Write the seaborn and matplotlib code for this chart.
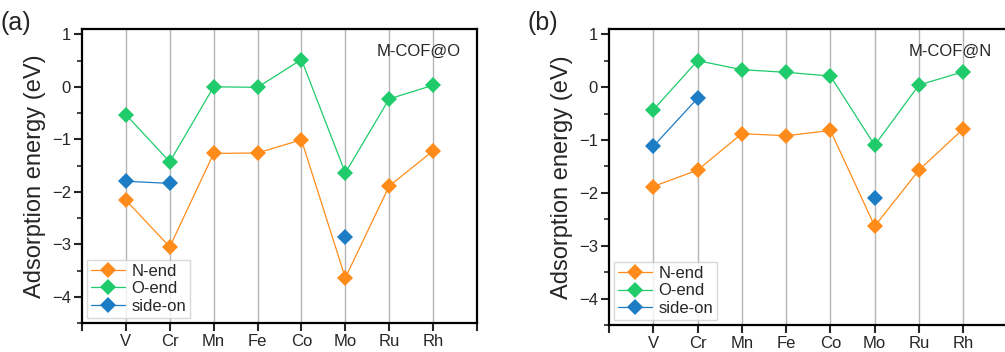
import numpy as np
import pandas as pd
import matplotlib
matplotlib.use("Agg")
import matplotlib.pyplot as plt
import seaborn as sns
from matplotlib.ticker import MultipleLocator, FixedLocator

metals = ["V", "Cr", "Mn", "Fe", "Co", "Mo", "Ru", "Rh"]

# Panel (a) M-COF@O
a_nend = [-2.16, -3.05, -1.27, -1.26, -1.01, -3.64, -1.89, -1.22]
a_oend = [-0.53, -1.43, 0.00, -0.01, 0.52, -1.64, -0.23, 0.03]
a_side = [-1.80, -1.84, np.nan, np.nan, np.nan, -2.87, np.nan, np.nan]

# Panel (b) M-COF@N
b_nend = [-1.88, -1.57, -0.88, -0.92, -0.82, -2.63, -1.57, -0.79]
b_oend = [-0.43, 0.50, 0.33, 0.28, 0.21, -1.10, 0.04, 0.29]
b_side = [-1.12, -0.21, np.nan, np.nan, np.nan, -2.10, np.nan, np.nan]

series_names = ["N-end", "O-end", "side-on"]
colors = {"N-end": "#FF8C1A", "O-end": "#1FCB6A", "side-on": "#1C7CC4"}

sns.set_style("white")
plt.rcParams["font.family"] = ["Liberation Sans", "DejaVu Sans"]

fig = plt.figure(figsize=(10.05, 3.52), dpi=100)
ax_a = fig.add_axes([0.0816, 0.0824, 0.393, 0.835])
ax_b = fig.add_axes([0.606, 0.0767, 0.3965, 0.841])


def make_df(vals, name):
    df = pd.DataFrame({"pos": np.arange(len(metals)), "metal": metals, "energy": vals})
    df["mode"] = name
    # segment id: break the line where values are missing
    seg = np.cumsum(df["energy"].isna().astype(int))
    df["seg"] = seg
    return df.dropna()


def draw(ax, nend, oend, side, tag, label):
    handles = []
    for name, vals in zip(series_names, [nend, oend, side]):
        df = make_df(vals, name)
        n_before = len(ax.lines)
        sns.lineplot(data=df, x="pos", y="energy", units="seg", estimator=None,
                     color=colors[name], marker="D", markersize=8.5,
                     markeredgewidth=0, linewidth=0.9, ax=ax, legend=False)
        handles.append(ax.lines[n_before])
    ax.set_xlim(-1, 8)
    ax.set_ylim(-4.5, 1.1)
    ax.xaxis.set_major_locator(FixedLocator(np.arange(-1, 9)))
    ax.set_xticklabels([""] + metals + [""])
    ax.yaxis.set_major_locator(MultipleLocator(1))
    ax.yaxis.set_minor_locator(MultipleLocator(0.5))
    for p in range(len(metals)):
        ax.axvline(p, color="#b5b5b5", linewidth=1.0, zorder=0)
    for s in ax.spines.values():
        s.set_linewidth(1.6)
        s.set_color("black")
    ax.tick_params(axis="both", which="major", direction="out", length=6, width=1.5,
                   labelsize=12, left=True, bottom=True, top=False, right=False, pad=2)
    ax.tick_params(axis="y", which="minor", direction="out", length=3.5, width=1.2, left=True)
    ax.set_xlabel("")
    ax.set_ylabel("Adsorption energy (eV)", fontsize=17, labelpad=4)
    ax.text(0.96, 0.95, label, transform=ax.transAxes, ha="right", va="top", fontsize=12)
    leg = ax.legend(handles, series_names, loc="lower left", fontsize=12,
                    frameon=True, fancybox=False, edgecolor="#d0d0d0",
                    borderaxespad=0.3, handlelength=2.0, handletextpad=0.4,
                    labelspacing=0.15, borderpad=0.25)
    leg.get_frame().set_linewidth(1.0)
    fig.text(ax.get_position().x0 - 0.081, 0.935, tag, fontsize=18, ha="left", va="center")


draw(ax_a, a_nend, a_oend, a_side, "(a)", "M-COF@O")
draw(ax_b, b_nend, b_oend, b_side, "(b)", "M-COF@N")

fig.savefig("out.png", dpi=100)
